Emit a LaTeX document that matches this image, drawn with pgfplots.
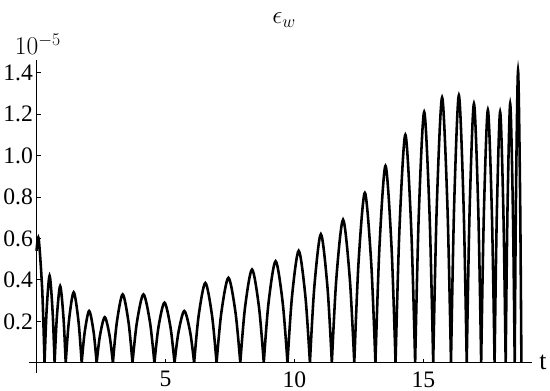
\documentclass[border=0pt]{standalone}
\usepackage{fontspec}
\setmainfont{Liberation Serif}
\usepackage{pgfplots}
\pgfplotsset{compat=1.18}

% humps of eps_w: t, value (units of 1e-5); nan rows split the curve
\pgfplotstableread{
t v
0 0.54
0.08 0.60
0.22 0.35
0.31 0
nan nan
0.31 0
0.388 0.247
0.505 0.42
0.622 0.247
0.70 0
nan nan
0.70 0
0.786 0.218
0.915 0.37
1.044 0.218
1.13 0
nan nan
1.13 0
1.254 0.200
1.44 0.34
1.626 0.200
1.75 0
nan nan
1.75 0
1.866 0.147
2.04 0.25
2.214 0.147
2.33 0
nan nan
2.33 0
2.456 0.129
2.645 0.22
2.834 0.129
2.96 0
nan nan
2.96 0
3.112 0.194
3.34 0.33
3.568 0.194
3.72 0
nan nan
3.72 0
3.89 0.194
4.145 0.33
4.40 0.194
4.57 0
nan nan
4.57 0
4.726 0.171
4.96 0.29
5.194 0.171
5.35 0
nan nan
5.35 0
5.502 0.147
5.73 0.25
5.958 0.147
6.11 0
nan nan
6.11 0
6.284 0.226
6.545 0.385
6.806 0.226
6.98 0
nan nan
6.98 0
7.164 0.241
7.44 0.41
7.716 0.241
7.90 0
nan nan
7.90 0
8.082 0.265
8.355 0.45
8.628 0.265
8.81 0
nan nan
8.81 0
8.994 0.288
9.27 0.49
9.546 0.288
9.73 0
nan nan
9.73 0
9.904 0.318
10.165 0.54
10.426 0.318
10.60 0
nan nan
10.60 0
10.77 0.365
11.025 0.62
11.28 0.365
11.45 0
nan nan
11.45 0
11.624 0.406
11.885 0.69
12.146 0.406
12.32 0
nan nan
12.32 0
12.484 0.482
12.73 0.82
12.976 0.482
13.14 0
nan nan
13.14 0
13.296 0.559
13.53 0.95
13.764 0.559
13.92 0
nan nan
13.92 0
14.072 0.647
14.30 1.10
14.528 0.647
14.68 0
nan nan
14.68 0
14.82 0.711
15.03 1.21
15.24 0.711
15.38 0
nan nan
15.38 0
15.518 0.753
15.725 1.28
15.932 0.753
16.07 0
nan nan
16.07 0
16.192 0.759
16.375 1.29
16.558 0.759
16.68 0
nan nan
16.68 0
16.792 0.735
16.96 1.25
17.128 0.735
17.24 0
nan nan
17.24 0
17.344 0.717
17.50 1.22
17.656 0.717
17.76 0
nan nan
17.76 0
17.846 0.711
17.975 1.21
18.104 0.711
18.19 0
nan nan
18.19 0
18.26 0.735
18.365 1.25
18.47 0.735
18.54 0
nan nan
18.54 0
18.592 0.829
18.67 1.41
18.748 0.829
18.80 0
}\epsdata

\begin{document}
\begin{tikzpicture}
\begin{axis}[
    scale only axis,
    width=490pt, height=305pt,
    axis lines=middle,
    axis line style={-, line width=1.3pt},
    xmin=-0.3, xmax=19.2,
    ymin=-0.05, ymax=1.46,
    xtick={5,10,15},
    ytick={0.2,0.4,0.6,0.8,1.0,1.2,1.4},
    yticklabel style={/pgf/number format/.cd, fixed, fixed zerofill, precision=1},
    /pgf/number format/assume math mode=true,
    tick label style={font=\fontsize{23}{26}\selectfont},
    xticklabel style={yshift=-5pt},
    tick align=inside,
    major tick length=4pt,
    tick style={black, line width=0.8pt},
    xlabel={t},
    xlabel style={font=\fontsize{25}{28}\selectfont, anchor=west, xshift=4pt},
    unbounded coords=jump,
    clip=false,
]
    \addplot[black, line width=2.5pt, smooth, mark=none] table[x=t, y=v] {\epsdata};
    \node[font=\fontsize{23}{26}\selectfont] at (axis cs:0.05,1.535) {$10^{-5}$};
    \node[font=\fontsize{26}{30}\selectfont] at (axis cs:9.6,1.655) {$\epsilon_w$};
    \path (axis cs:9.6,1.75) -- (axis cs:9.6,1.75);
\end{axis}
\end{tikzpicture}
\end{document}
